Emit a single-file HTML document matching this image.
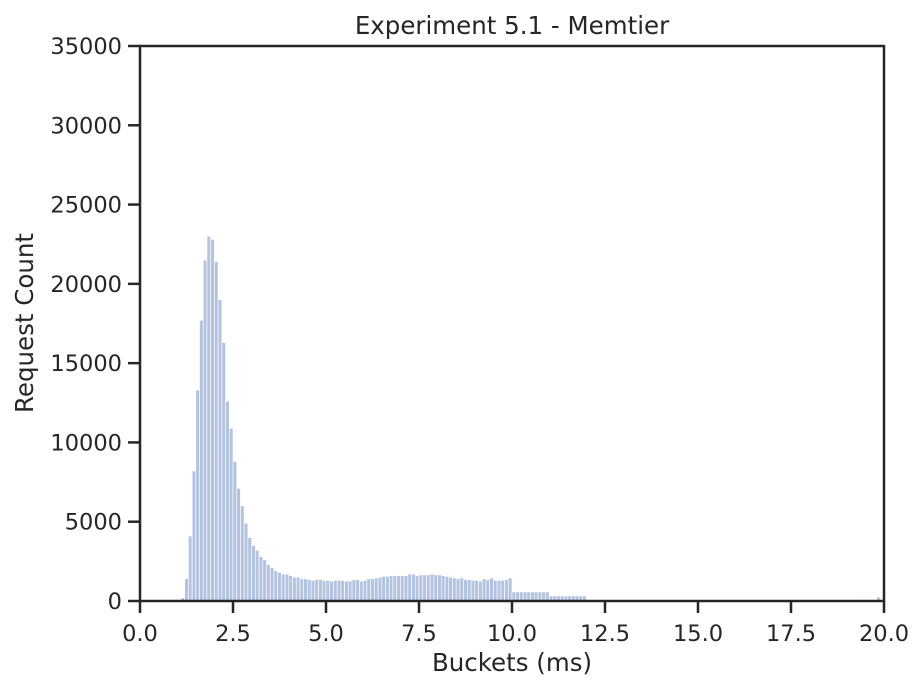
<!DOCTYPE html>
<html><head><meta charset="utf-8"><style>
html,body{margin:0;padding:0;background:#fff;}
svg text{font-family:"DejaVu Sans","Liberation Sans",sans-serif;fill:#262626;}
</style></head><body>
<svg id="chart" width="924" height="691" xmlns="http://www.w3.org/2000/svg">
<rect width="924" height="691" fill="#fff"/>
<g id="bars"></g>
<g id="axes"></g>
<text x="512" y="34" font-size="24.5" text-anchor="middle">Experiment 5.1 - Memtier</text>
<text x="512" y="671" font-size="24.5" text-anchor="middle">Buckets (ms)</text>
<text x="33" y="323" font-size="24.5" text-anchor="middle" transform="rotate(-90 33 323)">Request Count</text>
</svg>
<script>
const binStarts = [];
for (let i = 11; i <= 119; i++) binStarts.push(i / 10);
binStarts.push(19.8);
const counts = [
 200,1400,4100,8200,13300,17700,21500,23000,22800,21400,
 19000,16300,12600,10900,8800,7100,6000,4900,4000,3500,
 3200,2800,2600,2300,2100,1900,1800,1700,1700,1600,
 1500,1500,1400,1400,1350,1300,1350,1350,1300,1300,
 1250,1300,1300,1300,1250,1250,1350,1350,1250,1300,
 1400,1400,1450,1500,1550,1550,1600,1600,1600,1600,
 1600,1700,1700,1600,1650,1650,1650,1700,1650,1650,
 1600,1550,1500,1450,1400,1450,1350,1350,1300,1300,
 1250,1400,1350,1450,1300,1300,1300,1350,1450,
 570,570,570,570,570,570,570,570,570,570,
 320,320,320,320,320,320,320,320,320,320,
 250
];
const xTicks = [0,2.5,5,7.5,10,12.5,15,17.5,20];
const xTickLabels = ["0.0","2.5","5.0","7.5","10.0","12.5","15.0","17.5","20.0"];
const yTicks = [0,5000,10000,15000,20000,25000,30000,35000];
const yTickLabels = ["0","5000","10000","15000","20000","25000","30000","35000"];

const X0=140,X1=884,Y0=601,Y1=46;
const xs = v => X0 + (v/20)*(X1-X0);
const ys = v => Y0 - (v/35000)*(Y0-Y1);
const NS="http://www.w3.org/2000/svg";
const bars=document.getElementById('bars');
binStarts.forEach((b,i)=>{
  const r=document.createElementNS(NS,'rect');
  
  
  const x=xs(b), w=xs(b+0.1)-x;
  r.setAttribute('x',x);r.setAttribute('width',w);
  r.setAttribute('y',ys(counts[i]));r.setAttribute('height',Y0-ys(counts[i]));
  r.setAttribute('fill','#b4c4e0');r.setAttribute('stroke','#ffffff');r.setAttribute('stroke-width','0.6');
  bars.appendChild(r);
});
const ax=document.getElementById('axes');
const fr=document.createElementNS(NS,'rect');


fr.setAttribute('x',X0);fr.setAttribute('y',Y1);fr.setAttribute('width',X1-X0);fr.setAttribute('height',Y0-Y1);
fr.setAttribute('fill','none');fr.setAttribute('stroke','#262626');fr.setAttribute('stroke-width','2.5');
ax.appendChild(fr);
xTicks.forEach((t,i)=>{
  const l=document.createElementNS(NS,'line');
  
  
  l.setAttribute('x1',xs(t));l.setAttribute('x2',xs(t));l.setAttribute('y1',Y0);l.setAttribute('y2',Y0+12);
  l.setAttribute('stroke','#262626');l.setAttribute('stroke-width','2.5');ax.appendChild(l);
  const tx=document.createElementNS(NS,'text');
  
  
  tx.setAttribute('x',xs(t));tx.setAttribute('y',Y0+40);tx.setAttribute('font-size','22.5');tx.setAttribute('text-anchor','middle');
  tx.textContent=xTickLabels[i];ax.appendChild(tx);
});
yTicks.forEach((t,i)=>{
  const l=document.createElementNS(NS,'line');
  
  
  l.setAttribute('x1',X0-12);l.setAttribute('x2',X0);l.setAttribute('y1',ys(t));l.setAttribute('y2',ys(t));
  l.setAttribute('stroke','#262626');l.setAttribute('stroke-width','2.5');ax.appendChild(l);
  const tx=document.createElementNS(NS,'text');
  
  
  tx.setAttribute('x',X0-18);tx.setAttribute('y',ys(t)+8);tx.setAttribute('font-size','22.5');tx.setAttribute('text-anchor','end');
  tx.textContent=yTickLabels[i];ax.appendChild(tx);
});
</script>
</body></html>
